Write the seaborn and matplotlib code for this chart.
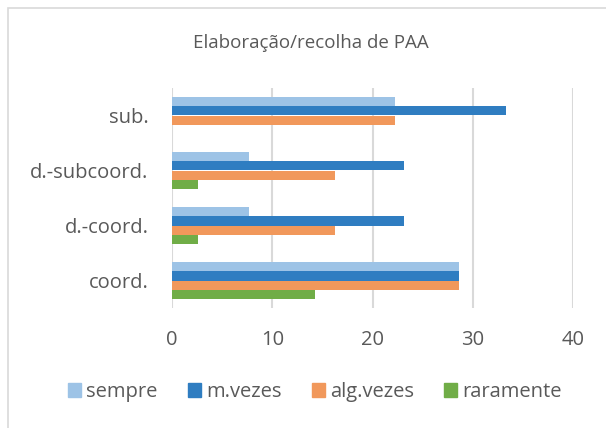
import matplotlib
matplotlib.use("Agg")
import matplotlib.pyplot as plt
import seaborn as sns
import pandas as pd
from matplotlib.patches import Rectangle

categories = ["sub.", "d.-subcoord.", "d.-coord.", "coord."]
series = ["sempre", "m.vezes", "alg.vezes", "raramente"]
sempre = [22.2, 7.7, 7.7, 28.6]
m_vezes = [33.3, 23.1, 23.1, 28.6]
alg_vezes = [22.2, 16.3, 16.3, 28.6]
raramente = [0.0, 2.6, 2.6, 14.3]
xticks = [0, 10, 20, 30, 40]
title = "Elaboração/recolha de PAA"

colors = ["#9DC3E6", "#2F7DC1", "#F1985B", "#70AD47"]

rows = []
for name, vals in zip(series, [sempre, m_vezes, alg_vezes, raramente]):
    for c, v in zip(categories, vals):
        rows.append({"cat": c, "serie": name, "val": v})
df = pd.DataFrame(rows)

sns.set_theme(style="white")
plt.rcParams["font.family"] = ["Open Sans", "DejaVu Sans"]
txt = "#595959"

fig = plt.figure(figsize=(6.06, 4.28), dpi=100)
ax = fig.add_axes([172/606, 1-308/428, (573-172)/606, 220/428])

sns.barplot(data=df, y="cat", x="val", hue="serie", order=categories,
            hue_order=series, palette=colors, width=0.68, gap=0,
            orient="h", ax=ax, legend=True, saturation=1, linewidth=0)

ax.set_xlim(0, 40)
ax.set_xticks(xticks)
ax.set_xticklabels([str(t) for t in xticks])
ax.xaxis.grid(True, color="#D9D9D9", linewidth=1.5)
ax.set_axisbelow(True)
for s in ax.spines.values():
    s.set_visible(False)
ax.set_xlabel("")
ax.set_ylabel("")
ax.tick_params(axis="x", length=0, pad=16, labelsize=14.5, labelcolor=txt)
ax.tick_params(axis="y", length=0, pad=17, labelsize=14.5, labelcolor=txt)

ax.legend_.remove()
handles = [Rectangle((0, 0), 1, 1, color=c) for c in colors]
fig.legend(handles, series, loc="center", bbox_to_anchor=(315/606, 1-392/428),
           ncol=4, frameon=False, fontsize=14.5, labelcolor=txt,
           handlelength=0.65, handleheight=0.65, handletextpad=0.25,
           columnspacing=1.5)

fig.text(311/606, 1-43/428, title, ha="center", va="center",
         fontsize=13.5, color=txt)

fig.patches.append(Rectangle((8/606, -0.1), 1.2, 1-8/428+0.1,
                             transform=fig.transFigure, fill=False,
                             edgecolor="#D9D9D9", linewidth=1.2))

fig.savefig("out.png", dpi=100)
